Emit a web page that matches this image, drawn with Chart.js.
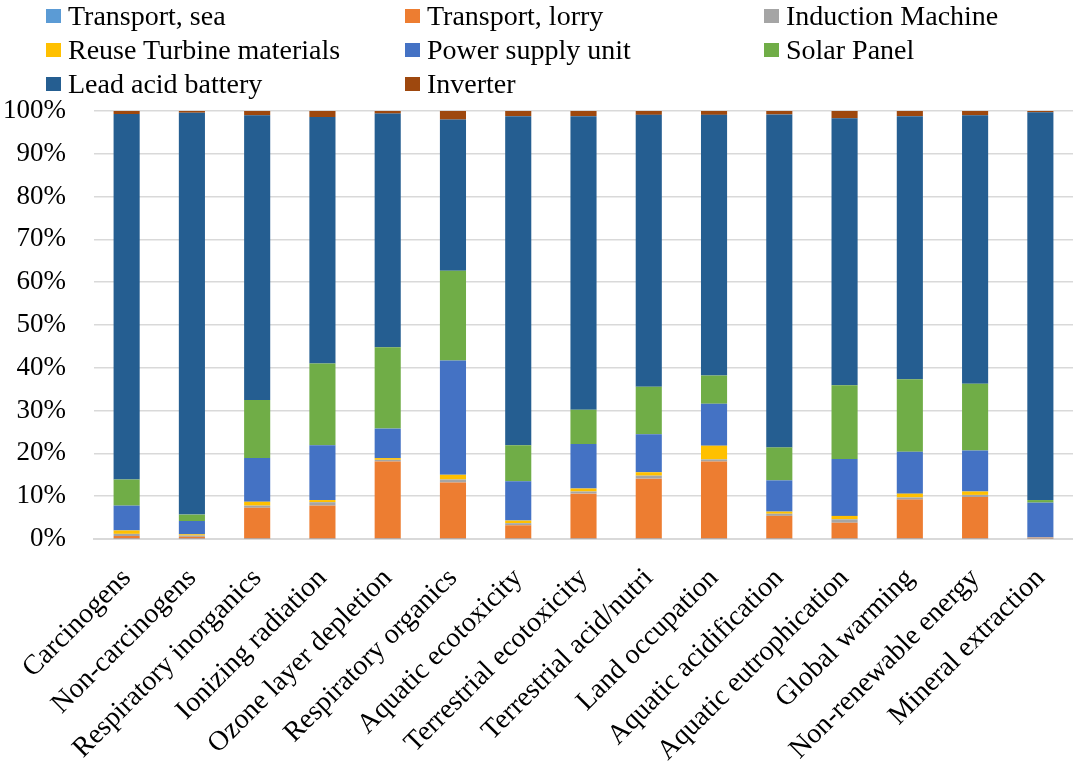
<!DOCTYPE html>
<html>
<head>
<meta charset="utf-8">
<script src="https://cdn.jsdelivr.net/npm/chart.js@4"></script>
<style>
    body { margin: 0; background: #fff; }
    #wrap { position: relative; width: 1073px; height: 767px; }
    #legend { position: absolute; left: 0; top: 0; width: 1073px; height: 100px; font-family: "Liberation Serif", "Times New Roman", serif; font-size: 28px; color: #000; }
    .item { position: absolute; white-space: nowrap; height: 34px; display: flex; align-items: center; }
    .box { display: inline-block; width: 15px; height: 14px; margin-right: 7px; }
</style>
</head>
<body>
<div id="wrap">
    <canvas id="chart" width="1073" height="767"></canvas>
    <div id="legend"></div>
</div>
<script>
const categories = ["Carcinogens", "Non-carcinogens", "Respiratory inorganics", "Ionizing radiation", "Ozone layer depletion", "Respiratory organics", "Aquatic ecotoxicity", "Terrestrial ecotoxicity", "Terrestrial acid/nutri", "Land occupation", "Aquatic acidification", "Aquatic eutrophication", "Global warming", "Non-renewable energy", "Mineral extraction"];

const transportSea  = [0.1, 0.1, 0.1, 0.1, 0.1, 0.1, 0.1, 0.1, 0.1, 0.1, 0.1, 0.1, 0.1, 0.1, 0.1];
const transportLorry = [0.6, 0.4, 7.2, 7.7, 18.0, 13.1, 3.1, 10.5, 14.0, 18.0, 5.3, 3.7, 9.1, 9.7, 0.2];
const inductionMachine = [0.5, 0.3, 0.5, 0.8, 0.4, 0.7, 0.5, 0.5, 0.7, 0.5, 0.5, 0.8, 0.5, 0.5, 0.1];
const reuseTurbine = [0.8, 0.3, 0.9, 0.5, 0.4, 1.1, 0.6, 0.7, 0.8, 3.2, 0.5, 0.8, 0.9, 0.8, 0.0];
const powerSupply = [5.8, 3.1, 10.2, 12.8, 6.9, 26.7, 9.2, 10.4, 8.9, 9.8, 7.3, 13.3, 9.8, 9.6, 8.1];
const solarPanel = [6.1, 1.5, 13.6, 19.1, 19.0, 21.0, 8.4, 8.0, 11.1, 6.6, 7.7, 17.2, 16.9, 15.6, 0.6];
const leadAcid = [85.4, 93.9, 66.5, 57.6, 54.6, 35.3, 76.9, 68.6, 63.5, 60.9, 77.8, 62.4, 61.5, 62.7, 90.6];
const inverter = [0.7, 0.4, 1.0, 1.4, 0.6, 2.0, 1.2, 1.2, 0.9, 0.9, 0.8, 1.7, 1.2, 1.0, 0.4];

const yTicks = [0, 10, 20, 30, 40, 50, 60, 70, 80, 90, 100];

const series = [
    { label: "Transport, sea", data: transportSea, color: "#5B9BD5" },
    { label: "Transport, lorry", data: transportLorry, color: "#ED7D31" },
    { label: "Induction Machine", data: inductionMachine, color: "#A5A5A5" },
    { label: "Reuse Turbine materials", data: reuseTurbine, color: "#FFC000" },
    { label: "Power supply unit", data: powerSupply, color: "#4472C4" },
    { label: "Solar Panel", data: solarPanel, color: "#70AD47" },
    { label: "Lead acid battery", data: leadAcid, color: "#255E91" },
    { label: "Inverter", data: inverter, color: "#9E480E" }
];

const serif = "'Liberation Serif', 'Times New Roman', serif";

const ctx = document.getElementById("chart").getContext("2d");
const chart = new Chart(ctx, {
    type: "bar",
    data: {
        labels: categories,
        datasets: series.map(s => ({
            label: s.label,
            data: s.data,
            backgroundColor: s.color,
            borderWidth: 0,
            categoryPercentage: 1,
            barPercentage: 0.4
        }))
    },
    options: {
        responsive: false,
        animation: false,
        layout: { padding: { top: 111, right: 0, left: 3, bottom: 0 } },
        plugins: {
            legend: { display: false },
            tooltip: { enabled: false }
        },
        scales: {
            x: {
                stacked: true,
                grid: { display: false },
                border: { color: "#d9d9d9", width: 2 },
                // keep the rotated labels from pushing the plot area around
                afterFit: scale => {
                    scale.paddingLeft = 0;
                    scale.paddingRight = 0;
                    scale.height = 228;
                },
                ticks: {
                    color: "#000",
                    font: { family: serif, size: 28 },
                    minRotation: 45,
                    maxRotation: 45,
                    autoSkip: false,
                    padding: 15
                }
            },
            y: {
                stacked: true,
                min: 0,
                max: 100,
                afterBuildTicks: axis => { axis.ticks = yTicks.map(v => ({ value: v })); },
                afterFit: scale => { scale.width = 91; },
                grid: { color: "#d9d9d9", lineWidth: 1.5, drawTicks: false },
                border: { display: false },
                ticks: {
                    color: "#000",
                    font: { family: serif, size: 27 },
                    padding: 28,
                    callback: v => v + "%"
                }
            }
        }
    }
});

// legend in three columns like the original
const legend = document.getElementById("legend");
const colX = [46, 405, 764];
const rowY = [16, 50, 84];
chart.data.datasets.forEach((ds, i) => {
    const el = document.createElement("div");
    el.className = "item";
    el.style.left = colX[i % 3] + "px";
    el.style.top = (rowY[Math.floor(i / 3)] - 17) + "px";
    el.innerHTML = '<span class="box" style="background:' + ds.backgroundColor + '"></span>' + ds.label;
    legend.appendChild(el);
});
</script>
</body>
</html>
